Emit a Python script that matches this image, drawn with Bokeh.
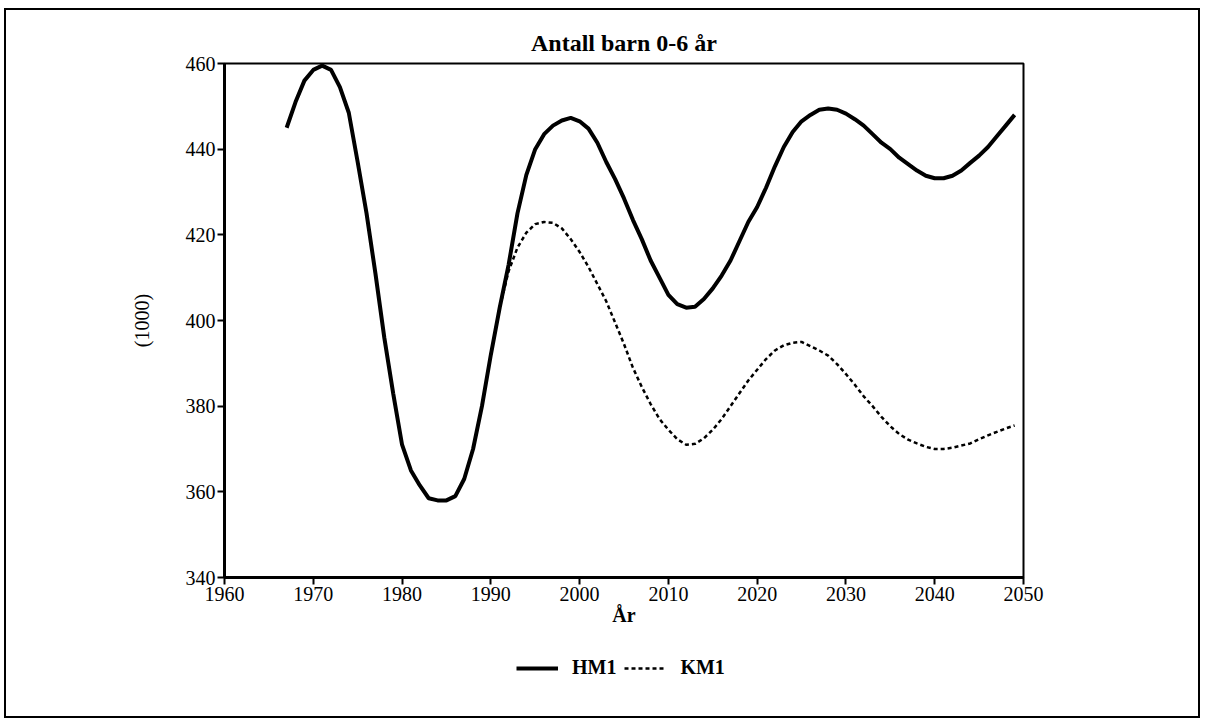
from bokeh.plotting import figure
from bokeh.layouts import column
from bokeh.models import Range1d, FixedTicker, Legend, LegendItem
from bokeh.embed import file_html
from bokeh.resources import INLINE

years_hm = list(range(1967, 2050))
hm1 = [445, 451, 456, 458.5, 459.5, 458.5, 454.5, 448.5, 437, 425,
       411, 396, 383, 371, 365, 361.5, 358.5, 358, 358, 359,
       363, 370, 380, 392, 403, 413, 425, 434, 440, 443.5,
       445.5, 446.7, 447.3, 446.5, 444.8, 441.5, 437, 433, 428.5, 423.5,
       419, 414, 410, 406, 403.8, 403, 403.2, 405, 407.5, 410.5,
       414, 418.5, 423, 426.5, 431, 436, 440.5, 444, 446.5, 448,
       449.2, 449.5, 449.2, 448.3, 447, 445.5, 443.5, 441.5, 440, 438,
       436.5, 435, 433.8, 433.2, 433.2, 433.8, 435, 436.8, 438.5, 440.5,
       443, 445.5, 448]

years_km = list(range(1990, 2050))
km1 = [392, 403, 411.5, 417, 420.5, 422.5, 423, 422.8, 421.5, 419,
       416, 412.5, 408.5, 404.5, 399.5, 394.5, 389, 384.5, 380.5, 377,
       374.5, 372.3, 371, 371.2, 372.5, 374.5, 377, 380, 383, 386,
       388.5, 391, 393, 394.2, 394.8, 395, 394, 393, 391.8, 389.8,
       387.5, 385, 382.3, 380, 377.5, 375.3, 373.5, 372.2, 371.3, 370.5,
       370, 370, 370.3, 370.8, 371.3, 372.3, 373.2, 374, 374.8, 375.5]

x_ticks = [1960, 1970, 1980, 1990, 2000, 2010, 2020, 2030, 2040, 2050]
y_ticks = [340, 360, 380, 400, 420, 440, 460]

title_text = "Antall barn 0-6 år"
x_label = "År"
y_label = "(1000)"
series_names = ["HM1", "KM1"]

FONT = "Liberation Serif"

p = figure(width=1192, height=625, output_backend="svg", toolbar_location=None,
           x_range=Range1d(1960, 2050), y_range=Range1d(340, 460),
           min_border_left=218, min_border_right=175,
           min_border_top=53, min_border_bottom=58,
           title=title_text)
p.border_fill_color = None

p.title.text_font = FONT
p.title.text_font_size = "24px"
p.title.text_font_style = "bold"
p.title.text_color = "black"
p.title.align = "center"
p.title.standoff = 16

p.grid.visible = False
p.outline_line_color = "black"
p.outline_line_width = 2
p.outline_line_alpha = 1

for ax in (p.xaxis[0], p.yaxis[0]):
    ax.axis_line_width = 3
    ax.axis_line_color = "black"
    ax.major_tick_line_width = 2
    ax.major_tick_line_color = "black"
    ax.major_tick_out = 7
    ax.major_tick_in = 0
    ax.minor_tick_line_color = None
    ax.major_label_text_font = FONT
    ax.major_label_text_font_size = "20px"
    ax.major_label_text_color = "black"
    ax.axis_label_text_font = FONT
    ax.axis_label_text_font_size = "20px"
    ax.axis_label_text_color = "black"

p.xaxis.ticker = FixedTicker(ticks=x_ticks)
p.yaxis.ticker = FixedTicker(ticks=y_ticks)
p.xaxis.major_label_standoff = 2
p.yaxis.major_label_standoff = 2
p.xaxis.axis_label = x_label
p.xaxis.axis_label_text_font_style = "bold"
p.xaxis.axis_label_standoff = 0
p.yaxis.axis_label = y_label
p.yaxis.axis_label_text_font_style = "normal"
p.yaxis.axis_label_standoff = 30

p.line(years_hm, hm1, line_color="black", line_width=4)
p.line(years_km, km1, line_color="black", line_width=2.5, line_dash="4 3")

# legend strip below the chart (its lines lie outside its own visible range)
p2 = figure(width=1192, height=81, output_backend="svg", toolbar_location=None,
            x_range=Range1d(1960, 2050), y_range=Range1d(0, 1),
            x_axis_location=None, y_axis_location=None,
            min_border=0, min_border_left=0, min_border_right=0,
            min_border_top=0, min_border_bottom=0)
p2.grid.visible = False
p2.outline_line_color = None
p2.border_fill_color = None
p2.background_fill_color = None
l1 = p2.line(years_hm, hm1, line_color="black", line_width=4)
l2 = p2.line(years_km, km1, line_color="black", line_width=2.5, line_dash="4 3")

legend = Legend(items=[LegendItem(label=series_names[0], renderers=[l1]),
                       LegendItem(label=series_names[1], renderers=[l2])],
                orientation="horizontal", location=(292, 37),
                border_line_color=None, background_fill_alpha=0,
                glyph_width=42, glyph_height=20, label_standoff=14,
                spacing=8, padding=0, margin=0,
                label_text_font=FONT, label_text_font_size="20px",
                label_text_font_style="bold", label_text_color="black")
p2.add_layout(legend, "center")

layout = column(p, p2, spacing=0)
layout.styles = {"border": "2px solid black", "margin-left": "4px", "margin-top": "8px"}

open("out.html", "w").write(file_html(layout, INLINE))
